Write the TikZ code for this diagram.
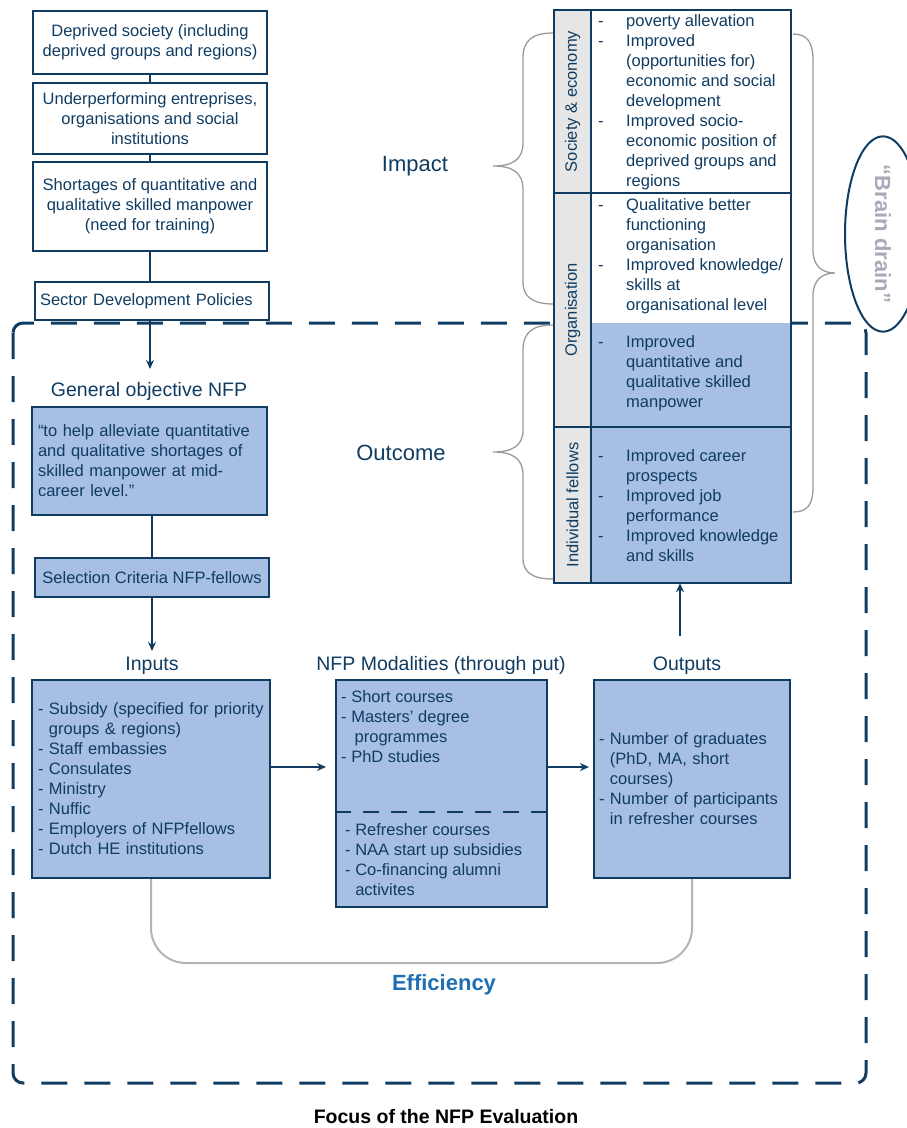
\documentclass[tikz,border=0pt]{standalone}
\usepackage{fontspec}
\setmainfont{Liberation Sans}
\usetikzlibrary{arrows.meta,shapes.geometric,calc}
\definecolor{navy}{HTML}{103C62}
\definecolor{lblue}{HTML}{A6BFE2}
\definecolor{lgray}{HTML}{E6E6E6}
\definecolor{bgray}{HTML}{9A9A9A}
\definecolor{egray}{HTML}{B4B4B4}
\definecolor{effblue}{HTML}{1E6EB4}
\definecolor{bdgray}{HTML}{A8AAB8}
\begin{document}
\begin{tikzpicture}[x=1pt,y=-1pt,
  every node/.style={font=\fontsize{16.5}{20}\selectfont, text=navy},
  box/.style={draw=navy, line width=2pt, inner sep=0pt, align=center},
  fbox/.style={box, fill=lblue},
  lbox/.style={align=left, inner ysep=0pt},
  lab/.style={font=\fontsize{19.5}{23}\selectfont, inner sep=0pt},
  big/.style={font=\fontsize{22}{26}\selectfont, inner sep=0pt},
  conn/.style={draw=navy, line width=2pt},
  arr/.style={conn, -{Stealth[length=9pt,width=8pt]}},
  brace/.style={draw=bgray, line width=1.3pt},
  lcell/.style={inner sep=0pt, minimum width=37pt, fill=lgray},
  ccell/.style={inner sep=0pt, minimum width=200pt},
  ctext/.style={anchor=west, inner sep=0pt, align=left},
  colline/.style={draw=navy, line width=2.5pt}
]
\useasboundingbox (0,0) rectangle (907,1128);

% focus frame
\draw[navy, line width=3pt, dash pattern=on 26pt off 17pt, rounded corners=10pt] (13,323) rectangle (866,1083);

% top chain
\node[box, minimum width=234pt, minimum height=63pt] (b1) at (150,42.5) {Deprived society (including\\deprived groups and regions)};
\node[box, minimum width=234pt, minimum height=71pt] (b2) at (150,118.5) {Underperforming entreprises,\\organisations and social\\institutions};
\node[box, minimum width=234pt, minimum height=89pt] (b3) at (150,206.5) {Shortages of quantitative and\\qualitative skilled manpower\\(need for training)};
\node[box, minimum width=234pt, minimum height=38pt, text width=224pt, inner xsep=5pt, align=left] (b4) at (152,301) {Sector Development Policies};
\draw[conn] (b1) -- (b2);
\draw[conn] (b2) -- (b3);
\draw[conn] (b3.south) -- (b3.south |- b4.north);
\coordinate (a1) at (150,369);
\draw[arr] (b4.south -| a1) -- (a1);

% general objective
\node[lab] (go) at (149,391.5) {General objective NFP};
\node[fbox, minimum width=235pt, minimum height=108pt, text width=223pt, inner xsep=6pt, align=left] (b5) at (149.5,461) {“to help alleviate quantitative\\and qualitative shortages of\\skilled manpower at mid-\\career level.”};
\node[fbox, minimum width=234pt, minimum height=39pt] (b6) at (152,577.5) {Selection Criteria NFP-fellows};
\draw[conn] (b5.south -| b6) -- (b6.north);
\coordinate (a2) at (152,651);
\draw[arr] (b6.south) -- (a2);

% inputs / modalities / outputs
\node[lab] (lin) at (152,665.5) {Inputs};
\node[lab] (lmod) at (441,665.5) {NFP Modalities (through put)};
\node[lab] (lout) at (687,665.5) {Outputs};

\node[fbox, minimum width=238pt, minimum height=198pt, text width=226pt, inner xsep=6pt, align=left] (b7) at (151,779) {- Subsidy (specified for priority\\\hphantom{- }groups \& regions)\\- Staff embassies\\- Consulates\\- Ministry\\- Nuffic\\- Employers of NFPfellows\\- Dutch HE institutions};
\node[fbox, minimum width=211pt, minimum height=227pt] (b8) at (441.5,793.5) {};
\draw[navy, line width=2pt, dash pattern=on 16pt off 12pt] ($(b8.north west)!0.581!(b8.south west)$) -- ($(b8.north east)!0.581!(b8.south east)$);
\node[lbox, anchor=west, inner xsep=0pt] (m1) at (341,726.5) {- Short courses\\- Masters’ degree\\\hspace*{13.5pt}programmes\\- PhD studies};
\node[lbox, anchor=west, inner xsep=0pt] (m2) at (345,860) {- Refresher courses\\- NAA start up subsidies\\- Co-financing alumni\\\hphantom{- }activites};
\node[fbox, minimum width=196pt, minimum height=198pt, text width=186pt, inner xsep=5pt, align=left] (b9) at (692,779) {- Number of graduates\\\hphantom{- }(PhD, MA, short\\\hphantom{- }courses)\\- Number of participants\\\hphantom{- }in refresher courses};

\draw[arr, shorten >=9pt] (b7.east |- 0,767) -- (b8.west |- 0,767);
\draw[arr, shorten >=4pt] (b8.east |- 0,767) -- (b9.west |- 0,767);

% efficiency
\draw[egray, line width=2pt, rounded corners=35pt] (b7.south) -- (b7.south |- 0,963) -- (b9.south |- 0,963) -- (b9.south);
\node[big, font=\fontsize{22}{26}\selectfont\bfseries, text=effblue] (eff) at (444,984.5) {Efficiency};

% right column
\node[lcell, minimum height=183pt] (l1) at (572.5,101.5) {};
\node[lcell, minimum height=234pt] (l2) at (572.5,310) {};
\node[lcell, minimum height=156pt] (l3) at (572.5,505) {};
\node[ccell, fill=white, minimum height=183pt] (c1) at (691,101.5) {};
\node[ccell, fill=white, minimum height=130pt] (c2) at (691,258) {};
\node[ccell, fill=lblue, minimum height=104pt] (c2b) at (691,375) {};
\node[ccell, fill=lblue, minimum height=156pt] (c3) at (691,505) {};
\draw[colline] (l1.north west) rectangle (c3.south east);
\draw[colline] (l1.north east) -- (l3.south east);
\draw[colline] (l1.south west) -- (c1.south east);
\draw[colline] (l3.north west) -- (c3.north east);

\node[rotate=90, inner sep=0pt] (t1) at (l1) {Society \& economy};
\node[rotate=90, inner sep=0pt] (t2) at (l2) {Organisation};
\node[rotate=90, inner sep=0pt] (t3) at (l3) {Individual fellows};

\node[ctext] (x1) at (598,102) {\begin{tabular}{@{}p{28pt}@{}l@{}}
- & poverty allevation\\
- & Improved\\
 & (opportunities for)\\
 & economic and social\\
 & development\\
- & Improved socio-\\
 & economic position of\\
 & deprived groups and\\
 & regions
\end{tabular}};
\node[ctext] (x2) at (598,256.5) {\begin{tabular}{@{}p{28pt}@{}l@{}}
- & Qualitative better\\
 & functioning\\
 & organisation\\
- & Improved knowledge/\\
 & skills at\\
 & organisational level
\end{tabular}};
\node[ctext] (x3) at (598,373) {\begin{tabular}{@{}p{28pt}@{}l@{}}
- & Improved\\
 & quantitative and\\
 & qualitative skilled\\
 & manpower
\end{tabular}};
\node[ctext] (x4) at (598,507.5) {\begin{tabular}{@{}p{28pt}@{}l@{}}
- & Improved career\\
 & prospects\\
- & Improved job\\
 & performance\\
- & Improved knowledge\\
 & and skills
\end{tabular}};

\coordinate (up) at (680,636);
\draw[arr] (up) -- (up |- c3.south);

% braces
\draw[brace] (553,33) .. controls (533,33) and (523,40) .. (523,58) -- (523,143) .. controls (523,160) and (512,166) .. (493,166) .. controls (512,166) and (523,172) .. (523,190) -- (523,282) .. controls (523,297) and (533,304) .. (553,304);
\draw[brace] (553,325) .. controls (533,325) and (523,332) .. (523,350) -- (523,430) .. controls (523,446) and (512,452) .. (493,452) .. controls (512,452) and (523,458) .. (523,475) -- (523,558) .. controls (523,573) and (533,579) .. (553,579);
\draw[brace] (793,34) .. controls (807,34) and (813,42) .. (813,60) -- (813,250) .. controls (813,266) and (822,273) .. (835,273) .. controls (822,273) and (813,280) .. (813,296) -- (813,488) .. controls (813,505) and (807,512) .. (793,512);

\node[big] (imp) at (415,166.5) {Impact};
\node[big] (outc) at (401,452.5) {Outcome};

% brain drain
\node[ellipse, draw=navy, line width=2pt, rotate=-90, minimum width=158pt, minimum height=76pt, inner sep=0pt, font=\fontsize{22}{26}\selectfont\bfseries, text=bdgray] (bd) at (883,234) {“Brain drain”};

% caption
\node[inner sep=0pt, font=\fontsize{19.5}{23}\selectfont\bfseries, text=black] (cap) at (446,1117) {Focus of the NFP Evaluation};
\end{tikzpicture}
\end{document}
